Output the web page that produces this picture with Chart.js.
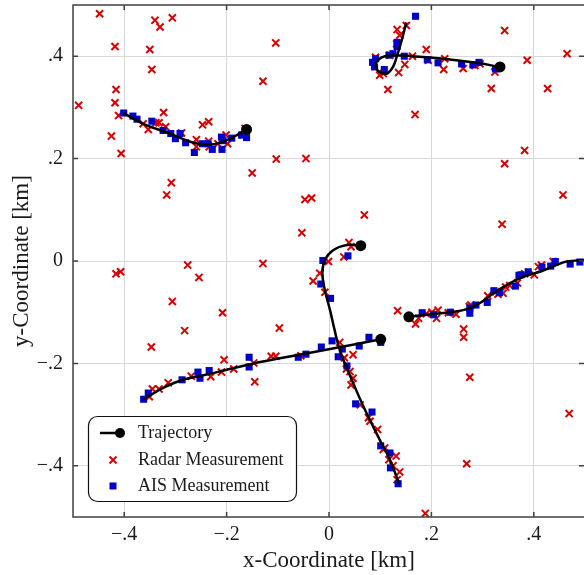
<!DOCTYPE html>
<html>
<head>
<meta charset="utf-8">
<script src="https://cdn.jsdelivr.net/npm/chart.js@4"></script>
<style>
html, body { margin: 0; padding: 0; background: #fff; overflow: hidden; }
</style>
</head>
<body>
<canvas id="plot" width="584" height="575"></canvas>
<script>
// Tracks (km), the marked end is the last point of each list
const track1 = [[-0.401,0.289],[-0.363,0.268],[-0.311,0.249],[-0.265,0.231],[-0.233,0.227],[-0.207,0.233],[-0.187,0.242],[-0.161,0.257]];
const track2 = [[0.151,0.466],[0.142,0.431],[0.132,0.398],[0.125,0.379],[0.115,0.367],[0.106,0.366],[0.096,0.371],[0.091,0.383],[0.096,0.393],[0.109,0.400],[0.132,0.402],[0.164,0.400],[0.223,0.395],[0.288,0.387],[0.334,0.379]];
const track3 = [[0.137,-0.435],[0.119,-0.388],[0.099,-0.349],[0.070,-0.290],[0.047,-0.238],[0.028,-0.193],[0.018,-0.164],[0.011,-0.135],[0.002,-0.096],[-0.008,-0.057],[-0.013,-0.024],[-0.008,0.002],[0.008,0.021],[0.034,0.031],[0.062,0.030]];
const track4 = [[-0.362,-0.270],[-0.324,-0.248],[-0.285,-0.232],[-0.226,-0.219],[-0.161,-0.203],[-0.096,-0.190],[0.002,-0.172],[0.101,-0.153]];
const track5 = [[0.500,0.002],[0.464,-0.001],[0.444,-0.008],[0.412,-0.021],[0.379,-0.031],[0.347,-0.047],[0.321,-0.063],[0.295,-0.082],[0.269,-0.094],[0.236,-0.100],[0.190,-0.105],[0.156,-0.109]];

// AIS fixes
const aisPts = [
  [-0.401,0.289],[-0.383,0.283],[-0.375,0.277],[-0.346,0.273],[-0.324,0.255],[-0.309,0.249],[-0.300,0.239],[-0.291,0.249],[-0.280,0.231],[-0.263,0.212],
  [-0.247,0.229],[-0.236,0.229],[-0.228,0.218],[-0.210,0.242],[-0.207,0.235],[-0.209,0.218],[-0.190,0.240],[-0.171,0.246],[-0.161,0.241],
  [0.169,0.478],[0.133,0.427],[0.133,0.419],[0.117,0.402],[0.125,0.405],[0.091,0.395],[0.085,0.388],[0.089,0.379],[0.108,0.374],[0.147,0.400],
  [0.192,0.393],[0.213,0.387],[0.259,0.385],[0.281,0.383],[0.293,0.388],[0.325,0.375],
  [-0.012,0.001],[0.037,0.010],[-0.016,-0.045],[0.003,-0.073],[0.006,-0.156],[-0.015,-0.168],[0.078,-0.149],[0.059,-0.166],[0.101,-0.159],
  [0.026,-0.172],[0.018,-0.187],[0.035,-0.205],[0.052,-0.279],[0.084,-0.295],[0.101,-0.361],[0.119,-0.375],[0.120,-0.404],[0.135,-0.435],
  [-0.362,-0.270],[-0.353,-0.258],[-0.287,-0.232],[-0.256,-0.217],[-0.252,-0.229],[-0.234,-0.214],[-0.156,-0.188],[-0.156,-0.207],[-0.060,-0.188],[-0.045,-0.182],
  [0.182,-0.101],[0.204,-0.105],[0.237,-0.100],[0.275,-0.092],[0.275,-0.102],[0.287,-0.086],[0.309,-0.081],[0.322,-0.058],[0.333,-0.062],[0.364,-0.049],
  [0.371,-0.028],[0.375,-0.027],[0.389,-0.021],[0.416,-0.012],[0.433,-0.010],[0.442,-0.001],[0.471,-0.006],[0.490,-0.002]
];

// Radar plots, including clutter
const radarPts = [
  [-0.411,0.284],[-0.363,0.268],[-0.353,0.257],[-0.338,0.270],[-0.332,0.270],[-0.319,0.262],[-0.323,0.290],[-0.288,0.250],[-0.259,0.237],[-0.259,0.223],
  [-0.247,0.266],[-0.235,0.272],[-0.235,0.234],[-0.234,0.223],[-0.217,0.229],[-0.201,0.246],[-0.198,0.229],[-0.164,0.259],[-0.168,0.246],
  [-0.448,0.483],[-0.418,0.419],[-0.350,0.413],[-0.340,0.470],[-0.330,0.457],[-0.306,0.475],[-0.346,0.374],[-0.416,0.335],[-0.418,0.309],[-0.425,0.244],
  [-0.406,0.210],[-0.489,0.304],[-0.308,0.153],[-0.317,0.129],[-0.150,0.172],[-0.129,0.351],[-0.104,0.426],[-0.103,0.199],[-0.129,-0.005],[-0.276,-0.008],
  [-0.254,-0.032],[-0.416,-0.025],[-0.407,-0.021],[-0.045,0.200],[-0.047,0.120],[-0.034,0.123],[-0.053,0.055],[0.069,0.090],
  [-0.306,-0.079],[-0.208,-0.101],[-0.282,-0.136],[-0.097,-0.131],[-0.347,-0.168],[-0.145,-0.236],
  [-0.351,-0.265],[-0.345,-0.250],[-0.332,-0.250],[-0.314,-0.238],[-0.269,-0.225],[-0.231,-0.226],[-0.210,-0.217],[-0.205,-0.193],[-0.186,-0.211],
  [-0.147,-0.199],[-0.113,-0.186],[-0.104,-0.186],[-0.055,-0.185],
  [0.039,0.036],[0.043,0.028],[0.029,0.008],[-0.001,-0.001],[-0.018,-0.024],[-0.031,-0.039],[-0.008,-0.061],[0.021,-0.159],[0.047,-0.183],[0.030,-0.189],
  [0.034,-0.211],[0.041,-0.216],[0.047,-0.229],[0.043,-0.242],[0.061,-0.281],[0.077,-0.306],[0.080,-0.313],[0.095,-0.329],[0.106,-0.368],[0.109,-0.365],
  [0.117,-0.388],[0.131,-0.381],[0.125,-0.400],[0.138,-0.412],[0.133,-0.427],
  [0.275,-0.227],[0.469,-0.298],[0.269,-0.396],[0.188,-0.493],[0.263,-0.133],[0.263,-0.149],[0.169,-0.123],
  [0.134,-0.097],[0.175,-0.112],[0.190,-0.103],[0.201,-0.100],[0.213,-0.096],[0.210,-0.112],[0.233,-0.101],[0.248,-0.104],[0.274,-0.089],[0.277,-0.086],
  [0.310,-0.068],[0.326,-0.060],[0.330,-0.065],[0.340,-0.063],[0.345,-0.051],[0.353,-0.048],[0.368,-0.043],[0.382,-0.025],[0.401,-0.027],[0.409,-0.011],
  [0.415,-0.008],[0.438,-0.001],
  [0.133,0.452],[0.151,0.460],[0.138,0.441],[0.132,0.424],[0.091,0.398],[0.099,0.363],[0.106,0.366],[0.136,0.368],[0.148,0.384],[0.163,0.400],
  [0.190,0.413],[0.194,0.392],[0.224,0.374],[0.226,0.395],[0.262,0.376],[0.285,0.382],[0.295,0.385],[0.324,0.369],[0.119,0.402],
  [0.343,0.450],[0.465,0.405],[0.387,0.392],[0.317,0.337],[0.427,0.337],[0.115,0.335],[0.168,0.286],[0.382,0.216],[0.343,0.190],[0.457,0.129],[0.338,0.072]
];

const tickVals = [-0.4, -0.2, 0, 0.2, 0.4];
const legendLabels = ['Trajectory', 'Radar Measurement', 'AIS Measurement'];

const SERIF = '"Liberation Serif", "Times New Roman", serif';
const RED = '#d90000';
const BLUE = '#0000c8';
const INK = '#1a1a1a';
// plot box; the right edge sits just past the canvas so only its ticks show
const AREA = { left: 73, top: 5, right: 585, bottom: 517 };

const toXY = arr => arr.map(([x, y]) => ({ x, y }));
const fmtTick = v => v === 0 ? '0' : (v < 0 ? '\u2212' : '') + '.' + Math.round(Math.abs(v) * 10);
const endDot = c => c.dataIndex === c.dataset.data.length - 1 ? 5.5 : 0;

// fixed axis sizes, no extra room for edge labels
const fixAxis = (s, size) => {
  if (s.isHorizontal()) s.height = size; else s.width = size;
  s.paddingLeft = s.paddingRight = s.paddingTop = s.paddingBottom = 0;
};

const trackSets = [track1, track2, track3, track4, track5].map((t, i) => ({
  label: i === 0 ? legendLabels[0] : '',
  data: toXY(t),
  showLine: true,
  borderColor: '#000',
  backgroundColor: '#000',
  borderWidth: 2.5,
  tension: 0.4,
  pointRadius: endDot,
  pointHoverRadius: endDot,
  pointBorderWidth: 0,
  order: 0
}));

// pin the plot box, then draw the frame, inward ticks and the legend panel
const frame = {
  id: 'frame',
  afterLayout(chart) {
    const a = chart.chartArea;
    Object.assign(a, AREA, { width: AREA.right - AREA.left, height: AREA.bottom - AREA.top });
    const { x, y } = chart.scales;
    x.left = AREA.left; x.right = AREA.right; x.width = AREA.right - AREA.left;
    y.top = AREA.top; y.bottom = AREA.bottom; y.height = AREA.bottom - AREA.top;
    x.configure();
    y.configure();
  },
  afterDraw(chart) {
    const { ctx, chartArea: a, scales } = chart;
    ctx.save();
    ctx.strokeStyle = '#404040';
    ctx.lineWidth = 1.5;
    ctx.strokeRect(a.left, a.top, a.right - a.left, a.bottom - a.top);
    ctx.beginPath();
    tickVals.forEach(v => {
      const px = scales.x.getPixelForValue(v);
      ctx.moveTo(px, a.bottom); ctx.lineTo(px, a.bottom - 5);
      ctx.moveTo(px, a.top); ctx.lineTo(px, a.top + 5);
      const py = scales.y.getPixelForValue(v);
      ctx.moveTo(a.left, py); ctx.lineTo(a.left + 5, py);
      ctx.moveTo(a.right - 1, py); ctx.lineTo(a.right - 6, py);
    });
    ctx.stroke();

    // legend
    const lx = 88.5, ly = 416.5, lw = 208, lh = 85, r = 9;
    ctx.beginPath();
    ctx.moveTo(lx + r, ly);
    ctx.arcTo(lx + lw, ly, lx + lw, ly + lh, r);
    ctx.arcTo(lx + lw, ly + lh, lx, ly + lh, r);
    ctx.arcTo(lx, ly + lh, lx, ly, r);
    ctx.arcTo(lx, ly, lx + lw, ly, r);
    ctx.closePath();
    ctx.fillStyle = '#fff';
    ctx.fill();
    ctx.strokeStyle = '#111';
    ctx.lineWidth = 1.2;
    ctx.stroke();

    const rows = [433, 460, 486];
    const mx = 113;
    // trajectory sample
    ctx.strokeStyle = '#000';
    ctx.lineWidth = 2.5;
    ctx.beginPath(); ctx.moveTo(100, rows[0]); ctx.lineTo(120, rows[0]); ctx.stroke();
    ctx.fillStyle = '#000';
    ctx.beginPath(); ctx.arc(120, rows[0], 5, 0, Math.PI * 2); ctx.fill();
    // radar sample
    ctx.strokeStyle = RED;
    ctx.lineWidth = 2;
    ctx.beginPath();
    ctx.moveTo(mx - 3.5, rows[1] - 3.5); ctx.lineTo(mx + 3.5, rows[1] + 3.5);
    ctx.moveTo(mx + 3.5, rows[1] - 3.5); ctx.lineTo(mx - 3.5, rows[1] + 3.5);
    ctx.stroke();
    // AIS sample
    ctx.fillStyle = BLUE;
    ctx.fillRect(mx - 3.5, rows[2] - 3.5, 7, 7);

    ctx.fillStyle = INK;
    ctx.font = '18px ' + SERIF;
    ctx.textBaseline = 'middle';
    ctx.textAlign = 'left';
    legendLabels.forEach((t, i) => ctx.fillText(t, 138, rows[i]));
    ctx.restore();
  }
};

new Chart(document.getElementById('plot'), {
  type: 'scatter',
  data: {
    datasets: [
      ...trackSets,
      {
        label: legendLabels[2],
        data: toXY(aisPts),
        pointStyle: 'rect',
        pointRadius: 5,
        pointHoverRadius: 5,
        pointBackgroundColor: BLUE,
        pointBorderWidth: 0,
        order: 1
      },
      {
        label: legendLabels[1],
        data: toXY(radarPts),
        pointStyle: 'crossRot',
        pointRadius: 5,
        pointHoverRadius: 5,
        pointBorderColor: RED,
        pointBorderWidth: 2,
        order: 2
      }
    ]
  },
  options: {
    responsive: false,
    animation: false,
    layout: { padding: { top: 5, right: 0, left: 0, bottom: 0 } },
    plugins: { legend: { display: false }, tooltip: { enabled: false } },
    scales: {
      x: {
        type: 'linear',
        min: -0.5,
        max: 0.5,
        afterBuildTicks: s => { s.ticks = tickVals.map(v => ({ value: v })); },
        afterFit: s => fixAxis(s, 58),
        border: { display: false },
        grid: { color: '#d8d8d8', lineWidth: 1, drawTicks: false },
        ticks: { callback: fmtTick, font: { family: SERIF, size: 20 }, color: INK, padding: 6, maxRotation: 0 },
        title: { display: true, text: 'x-Coordinate [km]', font: { family: SERIF, size: 23 }, color: INK, padding: 0 }
      },
      y: {
        type: 'linear',
        min: -0.5,
        max: 0.5,
        afterBuildTicks: s => { s.ticks = tickVals.map(v => ({ value: v })); },
        afterFit: s => fixAxis(s, 73),
        border: { display: false },
        grid: { color: '#d8d8d8', lineWidth: 1, drawTicks: false },
        ticks: { callback: fmtTick, font: { family: SERIF, size: 20 }, color: INK, padding: 10 },
        title: { display: true, text: 'y-Coordinate [km]', font: { family: SERIF, size: 23 }, color: INK, padding: { top: 8, bottom: 0 } }
      }
    }
  },
  plugins: [frame]
});
</script>
</body>
</html>
